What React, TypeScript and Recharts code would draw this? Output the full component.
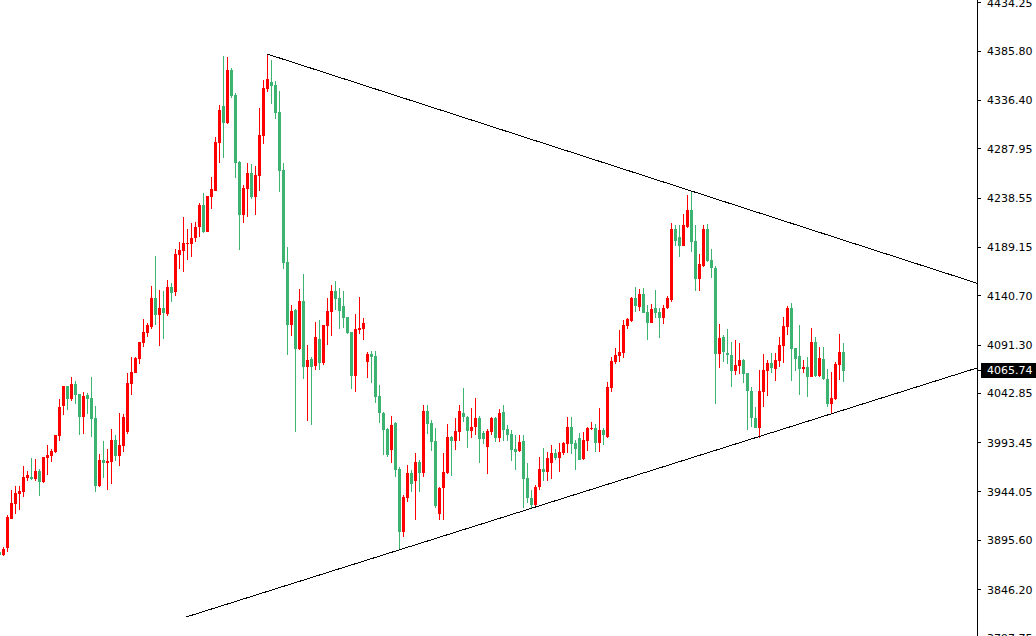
import React from 'react';
import { ComposedChart, Bar, XAxis, YAxis, ReferenceLine } from 'recharts';

// OHLC series, one entry per bar, oldest first
const opens = [
  3883.9, 3880.9, 3887.9, 3917.0, 3932.0, 3942.0, 3944.0, 3958.0, 3959.0, 3957.0,
  3965.1, 3954.0, 3978.1, 3980.1, 3984.1, 4000.1, 4030.2, 4050.2, 4037.2, 4052.2,
  4042.2, 4019.2, 4041.2, 4038.2, 4018.2, 3950.0, 3976.1, 3973.1, 3974.1, 3996.1,
  3980.1, 3990.1, 4004.1, 4052.2, 4063.3, 4077.3, 4093.3, 4103.3, 4109.3, 4138.4,
  4121.4, 4128.4, 4122.4, 4149.4, 4144.4, 4181.5, 4185.5, 4192.5, 4192.5, 4198.5,
  4209.5, 4231.6, 4204.5, 4239.6, 4245.6, 4293.7, 4330.8, 4313.8, 4366.9, 4341.8,
  4274.7, 4221.6, 4247.6, 4263.7, 4239.6, 4260.6, 4300.7, 4347.8, 4354.8, 4351.8,
  4324.8, 4266.7, 4174.5, 4111.3, 4126.4, 4087.3, 4135.4, 4069.3, 4077.3, 4070.3,
  4097.3, 4073.3, 4110.3, 4124.4, 4145.4, 4138.4, 4130.4, 4119.4, 4104.3, 4060.2,
  4106.3, 4107.3, 4074.3, 4082.3, 4080.3, 4040.2, 4023.2, 4007.1, 3986.1, 4013.2,
  3967.1, 3903.9, 3938.0, 3963.1, 3955.0, 3974.1, 3963.1, 4025.2, 4013.2, 3995.1,
  3922.0, 3948.0, 3963.1, 3999.1, 3995.1, 4004.1, 4023.2, 4019.2, 4005.1, 4009.1,
  4018.2, 4003.1, 3989.1, 4004.1, 4018.2, 3998.1, 4024.2, 4007.1, 4002.1, 3987.1,
  3985.1, 3995.1, 3958.0, 3938.0, 3931.0, 3949.0, 3967.1, 3964.1, 3973.1, 3983.1,
  3978.1, 3983.1, 3992.1, 4009.1, 3993.1, 3998.1, 3977.1, 3995.1, 4007.1, 4008.1,
  3993.1, 4006.1, 3999.1, 4048.2, 4074.3, 4080.3, 4083.3, 4110.3, 4115.4, 4138.4,
  4129.4, 4142.4, 4124.4, 4113.4, 4128.4, 4124.4, 4118.4, 4128.4, 4136.4, 4207.5,
  4199.5, 4190.5, 4209.5, 4226.6, 4195.5, 4157.4, 4170.5, 4207.5, 4176.5, 4168.5,
  4082.3, 4099.3, 4083.3, 4081.3, 4065.3, 4070.3, 4076.3, 4063.3, 4045.2, 4018.2,
  4008.1, 4044.2, 4065.3, 4073.3, 4067.3, 4075.3, 4090.3, 4109.3, 4128.4, 4088.3,
  4080.3, 4067.3, 4069.3, 4059.2, 4094.3, 4060.2, 4077.3, 4057.2, 4032.2, 4037.2,
  4071.3, 4084.3,
];

const highs = [
  3884.9, 3888.9, 3921.0, 3946.0, 3950.0, 3950.0, 3970.1, 3965.1, 3978.1, 3977.1,
  3967.1, 3979.1, 3991.1, 3987.1, 4001.1, 4037.2, 4050.2, 4050.2, 4059.2, 4055.2,
  4042.2, 4044.2, 4043.2, 4059.2, 4030.2, 3982.1, 3995.1, 3987.1, 4007.1, 4001.1,
  4023.2, 4022.2, 4063.3, 4079.3, 4079.3, 4094.3, 4117.4, 4113.4, 4150.4, 4180.5,
  4146.4, 4145.4, 4156.4, 4153.4, 4187.5, 4194.5, 4219.6, 4207.5, 4213.6, 4214.6,
  4233.6, 4243.6, 4240.6, 4259.6, 4299.7, 4331.8, 4380.9, 4379.9, 4368.9, 4343.8,
  4275.7, 4251.6, 4273.7, 4272.7, 4270.7, 4328.8, 4356.8, 4382.9, 4376.9, 4355.8,
  4345.8, 4273.7, 4189.5, 4131.4, 4127.4, 4147.4, 4162.5, 4091.3, 4079.3, 4114.4,
  4116.4, 4111.3, 4138.4, 4151.4, 4155.4, 4148.4, 4145.4, 4119.4, 4104.3, 4122.4,
  4139.4, 4118.4, 4084.3, 4085.3, 4085.3, 4051.2, 4024.2, 4008.1, 4020.2, 4014.2,
  3969.1, 3941.0, 3971.1, 3966.1, 3983.1, 3976.1, 4031.2, 4031.2, 4016.2, 4008.1,
  3949.0, 3983.1, 4012.2, 4000.1, 4018.2, 4031.2, 4048.2, 4020.2, 4028.2, 4038.2,
  4020.2, 4005.1, 4007.1, 4019.2, 4019.2, 4027.2, 4031.2, 4011.2, 4006.1, 4001.1,
  4001.1, 4001.1, 3973.1, 3946.0, 3951.0, 3979.1, 3988.1, 3984.1, 3991.1, 3987.1,
  3993.1, 3994.1, 4019.2, 4019.2, 3996.1, 4003.1, 4004.1, 4009.1, 4014.2, 4012.2,
  4028.2, 4008.1, 4054.2, 4079.3, 4088.3, 4106.3, 4116.4, 4118.4, 4139.4, 4149.4,
  4147.4, 4148.4, 4131.4, 4132.4, 4146.4, 4128.4, 4131.4, 4140.4, 4213.6, 4211.5,
  4211.5, 4222.6, 4241.6, 4245.6, 4211.5, 4182.5, 4211.5, 4212.6, 4187.5, 4170.5,
  4112.4, 4101.3, 4107.3, 4094.3, 4096.3, 4093.3, 4077.3, 4063.3, 4049.2, 4029.2,
  4066.3, 4082.3, 4076.3, 4083.3, 4083.3, 4099.3, 4119.4, 4130.4, 4133.4, 4088.3,
  4111.3, 4076.3, 4079.3, 4108.3, 4099.3, 4089.3, 4089.3, 4067.3, 4064.3, 4074.3,
  4102.3, 4093.3,
];

const lows = [
  3879.9, 3879.9, 3883.9, 3917.0, 3922.0, 3926.0, 3939.0, 3955.0, 3956.0, 3955.0,
  3940.0, 3953.0, 3961.1, 3974.1, 3983.1, 3995.1, 4021.2, 4026.2, 4035.2, 4032.2,
  4001.1, 4002.1, 4022.2, 3999.1, 3944.0, 3949.0, 3958.0, 3946.0, 3952.0, 3975.1,
  3970.1, 3984.1, 4002.1, 4041.2, 4063.3, 4072.3, 4089.3, 4099.3, 4107.3, 4111.3,
  4090.3, 4097.3, 4120.4, 4134.4, 4140.4, 4167.5, 4164.5, 4176.5, 4179.5, 4194.5,
  4199.5, 4203.5, 4204.5, 4227.6, 4245.6, 4273.7, 4278.7, 4312.8, 4338.8, 4258.6,
  4186.5, 4213.6, 4219.6, 4237.6, 4221.6, 4245.6, 4292.7, 4344.8, 4332.8, 4317.8,
  4244.6, 4167.5, 4081.3, 4100.3, 4004.1, 4086.3, 4057.2, 4015.2, 4011.2, 4066.3,
  4066.3, 4071.3, 4091.3, 4100.3, 4126.4, 4107.3, 4108.3, 4102.3, 4047.2, 4044.2,
  4102.3, 4096.3, 4058.2, 4053.2, 4033.2, 4013.2, 3981.1, 3979.1, 3973.1, 3959.0,
  3885.9, 3898.9, 3934.0, 3944.0, 3916.0, 3944.0, 3959.0, 4002.1, 3985.1, 3928.0,
  3916.0, 3916.0, 3962.1, 3960.0, 3986.1, 3995.1, 4014.2, 3988.1, 3998.1, 4001.1,
  3973.1, 3992.1, 3962.1, 4001.1, 3994.1, 3994.1, 3995.1, 3995.1, 3975.1, 3966.1,
  3984.1, 3928.0, 3933.0, 3928.0, 3928.0, 3946.0, 3955.0, 3955.0, 3957.0, 3976.1,
  3964.1, 3981.1, 3983.1, 3982.1, 3966.1, 3976.1, 3976.1, 3985.1, 4006.1, 3984.1,
  3984.1, 3991.1, 3998.1, 4044.2, 4072.3, 4074.3, 4078.3, 4107.3, 4114.4, 4124.4,
  4125.4, 4123.4, 4096.3, 4113.4, 4118.4, 4098.3, 4112.4, 4127.4, 4134.4, 4190.5,
  4179.5, 4190.5, 4208.5, 4184.5, 4145.4, 4145.4, 4169.5, 4174.5, 4158.4, 4032.2,
  4068.3, 4074.3, 4072.3, 4049.2, 4061.3, 4062.3, 4053.2, 4006.1, 4009.1, 4008.1,
  3998.1, 4029.2, 4040.2, 4063.3, 4055.2, 4069.3, 4073.3, 4101.3, 4055.2, 4065.3,
  4041.2, 4063.3, 4039.2, 4059.2, 4059.2, 4059.2, 4056.2, 4029.2, 4022.2, 4036.2,
  4056.2, 4054.2,
];

const closes = [
  3880.9, 3886.9, 3919.0, 3933.0, 3943.0, 3945.0, 3959.0, 3961.0, 3957.0, 3965.1,
  3954.0, 3979.1, 3981.1, 3985.1, 4001.1, 4029.2, 4050.2, 4037.2, 4052.2, 4041.2,
  4019.2, 4040.2, 4037.2, 4017.2, 3950.0, 3976.1, 3973.1, 3975.1, 3996.1, 3980.1,
  3991.1, 4019.2, 4053.2, 4064.3, 4078.3, 4094.3, 4104.3, 4111.3, 4138.4, 4121.4,
  4128.4, 4123.4, 4149.4, 4143.4, 4182.5, 4186.5, 4193.5, 4193.5, 4198.5, 4209.5,
  4231.6, 4204.5, 4240.6, 4247.6, 4294.7, 4326.8, 4313.8, 4366.9, 4340.8, 4273.7,
  4221.6, 4248.6, 4263.7, 4239.6, 4261.6, 4301.7, 4348.8, 4357.8, 4350.8, 4323.8,
  4265.7, 4173.5, 4111.3, 4125.4, 4087.3, 4135.4, 4069.3, 4076.3, 4069.3, 4099.3,
  4073.3, 4111.3, 4125.4, 4145.4, 4137.4, 4125.4, 4118.4, 4103.3, 4060.2, 4107.3,
  4108.3, 4113.4, 4082.3, 4079.3, 4039.2, 4023.2, 4006.1, 3981.1, 4011.2, 3966.1,
  3903.9, 3939.0, 3963.1, 3952.0, 3974.1, 3963.1, 4025.2, 4012.2, 3994.1, 3930.0,
  3948.0, 3964.1, 3999.1, 3995.1, 4005.1, 4025.2, 4019.2, 4005.1, 4009.1, 4018.2,
  3997.1, 3997.1, 4005.1, 4018.2, 3998.1, 4023.2, 4006.1, 4001.1, 3986.1, 3984.1,
  3994.1, 3957.0, 3938.0, 3931.0, 3949.0, 3967.1, 3964.1, 3978.1, 3983.1, 3978.1,
  3984.1, 3993.1, 4009.1, 3992.1, 3987.1, 3976.1, 3996.1, 4008.1, 4008.1, 3993.1,
  4006.1, 4001.1, 4049.2, 4075.3, 4081.3, 4084.3, 4111.3, 4117.4, 4138.4, 4130.4,
  4142.4, 4123.4, 4113.4, 4127.4, 4123.4, 4118.4, 4128.4, 4138.4, 4207.5, 4195.5,
  4190.5, 4211.5, 4226.6, 4194.5, 4157.4, 4172.5, 4207.5, 4175.5, 4168.5, 4082.3,
  4098.3, 4084.3, 4081.3, 4065.3, 4071.3, 4076.3, 4062.3, 4045.2, 4018.2, 4008.1,
  4045.2, 4066.3, 4073.3, 4068.3, 4076.3, 4091.3, 4110.3, 4128.4, 4087.3, 4077.3,
  4067.3, 4069.3, 4059.2, 4094.3, 4060.2, 4078.3, 4057.2, 4032.2, 4038.2, 4072.3,
  4084.3, 4065.74,
];

// price scale labels on the right
const priceTicks = [
  4434.25, 4385.8, 4336.4, 4287.95, 4238.55, 4189.15, 4140.7,
  4091.3, 4042.85, 3993.45, 3944.05, 3895.6, 3846.2, 3797.75,
];
const lastPrice = 4065.74;
const priceDomain = [3775.67, 4436.99];

// trendlines: [bar slot, price] endpoints
const upperTrend = [
  [67, 4382.9],
  [244.5, 4153.2],
];
const lowerTrend = [
  [46.75, 3818.7],
  [244.5, 4068.3],
];

// total bar slots across the chart (empty space on the right)
const SLOTS = 245;

const UP = '#ff0000';
const DOWN = '#3cb371';

type Row = { i: number; o?: number; h?: number; l?: number; c?: number; range?: [number, number] };

const rows: Row[] = Array.from({ length: SLOTS }, (_, i) =>
  i < opens.length
    ? { i, o: opens[i], h: highs[i], l: lows[i], c: closes[i], range: [lows[i], highs[i]] as [number, number] }
    : { i }
);

const Candle = (props: any) => {
  const { x, y, width, height, payload } = props;
  if (!payload || payload.o == null || height == null || isNaN(y)) return <g />;
  const { o, h, l, c } = payload as Required<Row>;
  const cx = Math.round(x + width / 2);
  const span = h - l || 1;
  const pos = (v: number) => y + ((h - v) / span) * height;
  const top = Math.round(pos(Math.max(o, c)));
  const bot = Math.round(pos(Math.min(o, c)));
  const wTop = Math.round(y);
  const wBot = Math.round(y + height);
  const color = c >= o ? UP : DOWN;
  return (
    <g>
      <rect x={cx} y={wTop} width={1} height={Math.max(1, wBot - wTop)} fill={color} />
      <rect x={cx - 1} y={top} width={3} height={Math.max(1, bot - top)} fill={color} />
    </g>
  );
};

const PriceTick = (props: any) => {
  const { x, y, payload } = props;
  const v = payload.value as number;
  const font = { fontFamily: 'DejaVu Sans', fontSize: 11 };
  if (v === lastPrice) {
    return (
      <g>
        <rect x={x - 6} y={y - 8} width={62} height={15} fill="#000" />
        <text x={x} y={y} dy="0.36em" fill="#fff" textAnchor="start" {...font}>
          {v.toFixed(2)}
        </text>
      </g>
    );
  }
  return (
    <text x={x} y={y} dy="0.36em" fill="#000" textAnchor="start" {...font}>
      {v.toFixed(2)}
    </text>
  );
};

export default function App() {
  return (
    <div
      style={{
        position: 'absolute',
        left: 0,
        top: 0,
        width: 1036,
        height: 636,
        overflow: 'hidden',
        background: '#fff',
      }}
    >
      <div style={{ position: 'absolute', left: -3, top: 0, shapeRendering: 'crispEdges' }}>
        <ComposedChart
          width={1040}
          height={660}
          data={rows}
          margin={{ top: 0, right: 0, bottom: 0, left: 0 }}
          barCategoryGap={0}
        >
          <XAxis dataKey="i" hide />
          <XAxis
            xAxisId="num"
            type="number"
            dataKey="i"
            domain={[-0.5, 244.5]}
            allowDataOverflow
            hide
          />
          <YAxis
            orientation="right"
            type="number"
            width={60}
            domain={priceDomain}
            allowDataOverflow
            ticks={[...priceTicks, lastPrice]}
            interval={0}
            tickSize={4}
            tickMargin={6}
            axisLine={{ stroke: '#000' }}
            tickLine={{ stroke: '#000' }}
            tick={<PriceTick />}
          />
          <Bar dataKey="range" shape={<Candle />} isAnimationActive={false} />
          <ReferenceLine
            xAxisId="num"
            segment={[
              { x: upperTrend[0][0], y: upperTrend[0][1] },
              { x: upperTrend[1][0], y: upperTrend[1][1] },
            ]}
            stroke="#000"
            strokeWidth={1}
            ifOverflow="visible"
          />
          <ReferenceLine
            xAxisId="num"
            segment={[
              { x: lowerTrend[0][0], y: lowerTrend[0][1] },
              { x: lowerTrend[1][0], y: lowerTrend[1][1] },
            ]}
            stroke="#000"
            strokeWidth={1}
            ifOverflow="visible"
          />
        </ComposedChart>
      </div>
    </div>
  );
}
